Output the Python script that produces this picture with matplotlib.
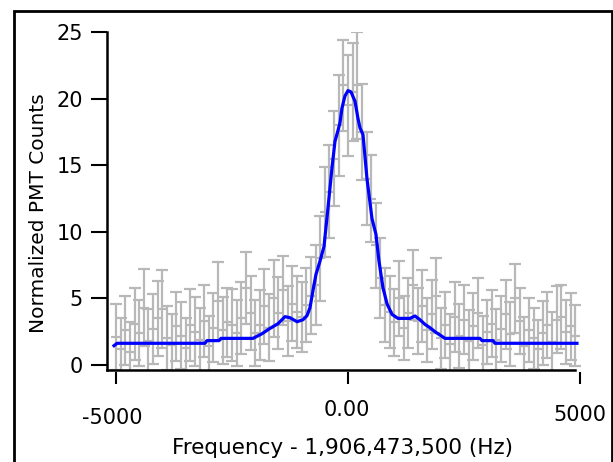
import matplotlib
matplotlib.use("Agg")
import matplotlib.pyplot as plt
from matplotlib.patches import Rectangle
from matplotlib.transforms import blended_transform_factory

# measured points (frequency offset in Hz, normalized counts, 1-sigma error)
freq = [-5000, -4900, -4800, -4700, -4600, -4500, -4400, -4300, -4200, -4100,
        -4000, -3900, -3800, -3700, -3600, -3500, -3400, -3300, -3200, -3100,
        -3000, -2900, -2800, -2700, -2600, -2500, -2400, -2300, -2200, -2100,
        -2000, -1900, -1800, -1700, -1600, -1500, -1400, -1300, -1200, -1100,
        -1000, -900, -800, -700, -600, -500, -400, -300, -200, -100,
        0, 100, 200, 300, 400, 500, 600, 700, 800, 900,
        1000, 1100, 1200, 1300, 1400, 1500, 1600, 1700, 1800, 1900,
        2000, 2100, 2200, 2300, 2400, 2500, 2600, 2700, 2800, 2900,
        3000, 3100, 3200, 3300, 3400, 3500, 3600, 3700, 3800, 3900,
        4000, 4100, 4200, 4300, 4400, 4500, 4600, 4700, 4800, 4900]

counts = [2.1, 1.2, 2.6, 1.0, 3.1, 2.4, 4.3, 1.8, 2.7, 3.5,
          4.2, 2.0, 1.5, 2.9, 2.2, 1.3, 3.0, 2.5, 1.9, 3.3,
          1.4, 2.8, 4.8, 2.6, 3.2, 3.0, 2.4, 3.5, 5.8, 3.9,
          2.4, 3.0, 4.4, 2.8, 5.0, 3.9, 5.6, 3.3, 4.6, 4.0,
          3.6, 4.5, 5.2, 6.0, 8.0, 11.5, 13.0, 15.5, 18.0, 21.0,
          19.5, 20.5, 21.0, 17.5, 14.0, 12.5, 9.0, 6.5, 4.5, 4.0,
          3.2, 5.0, 2.8, 3.9, 6.0, 3.3, 4.4, 2.6, 3.8, 5.2,
          2.0, 3.0, 1.6, 3.6, 2.2, 3.4, 1.8, 2.9, 3.9, 1.5,
          2.5, 3.1, 1.9, 2.7, 3.8, 2.3, 5.0, 3.3, 1.4, 2.6,
          2.0, 1.2, 2.4, 3.0, 1.7, 3.4, 3.6, 2.5, 2.9, 2.2]

count_err = [2.5, 2.3, 2.6, 2.2, 2.7, 2.5, 2.9, 2.4, 2.6, 2.8,
             2.9, 2.4, 2.3, 2.6, 2.5, 2.2, 2.7, 2.6, 2.4, 2.7,
             2.3, 2.6, 2.9, 2.5, 2.6, 2.7, 2.5, 2.7, 2.7, 2.8,
             2.5, 2.6, 2.8, 2.5, 2.9, 2.7, 2.6, 2.6, 2.8, 2.7,
             2.6, 2.8, 2.9, 3.0, 3.2, 3.4, 3.5, 3.6, 3.8, 3.4,
             3.8, 3.7, 4.0, 3.6, 3.5, 3.3, 3.2, 3.0, 2.8, 2.7,
             2.5, 2.8, 2.4, 2.6, 2.6, 2.5, 2.7, 2.4, 2.6, 2.8,
             2.3, 2.5, 2.2, 2.6, 2.4, 2.6, 2.3, 2.5, 2.6, 2.2,
             2.4, 2.5, 2.3, 2.5, 2.6, 2.4, 2.6, 2.5, 2.2, 2.4,
             2.3, 2.2, 2.4, 2.5, 2.3, 2.5, 2.4, 2.4, 2.5, 2.3]

# smoothed curve
fit_freq = [-5043, -4978, -3082, -3039, -2780, -2737, -2047, -1853, -1681, -1509,
            -1358, -1250, -1099, -970, -884, -819, -754, -690, -603, -517,
            -431, -345, -280, -216, -172, -129, -65, 0, 65, 151,
            216, 259, 323, 409, 517, 603, 668, 754, 841, 948,
            1078, 1336, 1444, 1552, 1659, 1767, 1875, 1983, 2091, 2845,
            2888, 3125, 3168, 4935]
fit_counts = [1.45, 1.63, 1.63, 1.83, 1.83, 2.0, 2.0, 2.35, 2.75, 3.1,
              3.63, 3.55, 3.25, 3.4, 3.7, 4.3, 5.6, 6.8, 7.8, 8.9,
              11.8, 14.8, 16.8, 17.6, 18.2, 19.3, 20.2, 20.6, 20.5, 19.8,
              18.5, 17.8, 17.3, 14.0, 11.0, 9.8, 7.8, 5.8, 4.6, 3.8,
              3.5, 3.5, 3.68, 3.4, 3.05, 2.8, 2.5, 2.25, 2.0, 2.0,
              1.83, 1.83, 1.63, 1.63]

x_ticks = [-5000, 0, 5000]
x_tick_labels = ['-5000', '0.00', '5000']

fig = plt.figure(figsize=(6.13, 4.62), dpi=100)
ax = fig.add_axes([0.17455, 0.19913, 0.78793, 0.73160])

ax.errorbar(freq, counts, yerr=count_err, fmt='_', color='#b8b8b8',
            ms=7, mew=1.6, elinewidth=1.6, capsize=4.5, capthick=1.6, zorder=2)
ax.plot(fit_freq, fit_counts, color='#0000ff', lw=2.3, zorder=3)

ax.set_xlim(-5194, 5216)
ax.set_ylim(-0.375, 25)

for s in ['top', 'right']:
    ax.spines[s].set_visible(False)
ax.spines['left'].set_linewidth(1.8)
ax.spines['bottom'].set_linewidth(1.8)
ax.spines['bottom'].set_bounds(-5194, 4892)

ax.set_yticks([0, 5, 10, 15, 20, 25])
ax.tick_params(axis='y', direction='out', length=11.5, width=1.5, pad=6,
               labelsize=15)
ax.set_xticks([])

# detached x ticks and their labels
trans = blended_transform_factory(ax.transData, ax.transAxes)
ax.vlines(x_ticks, -0.006, -0.041, transform=trans, colors='k', lw=1.5,
          clip_on=False)
label_x = [-5080, -20, 5000]
label_y = [-0.142, -0.118, -0.133]
for lx, ly, lab in zip(label_x, label_y, x_tick_labels):
    ax.text(lx, ly, lab, transform=trans, ha='center', va='center', fontsize=15)

fig.text(0.5595, 0.0303, 'Frequency - 1,906,473,500 (Hz)', ha='center',
         va='center', fontsize=15.5)
fig.text(0.062, 0.539, 'Normalized PMT Counts', ha='center', va='center',
         rotation=90, fontsize=14.5)

# outer frame
frame = Rectangle((13.7 / 613, -0.05), (611.5 - 13.7) / 613, (462 - 10.7) / 462 + 0.05,
                  transform=fig.transFigure, fill=False, lw=2, ec='k', clip_on=False)
fig.add_artist(frame)

fig.savefig('out.png', dpi=100)
